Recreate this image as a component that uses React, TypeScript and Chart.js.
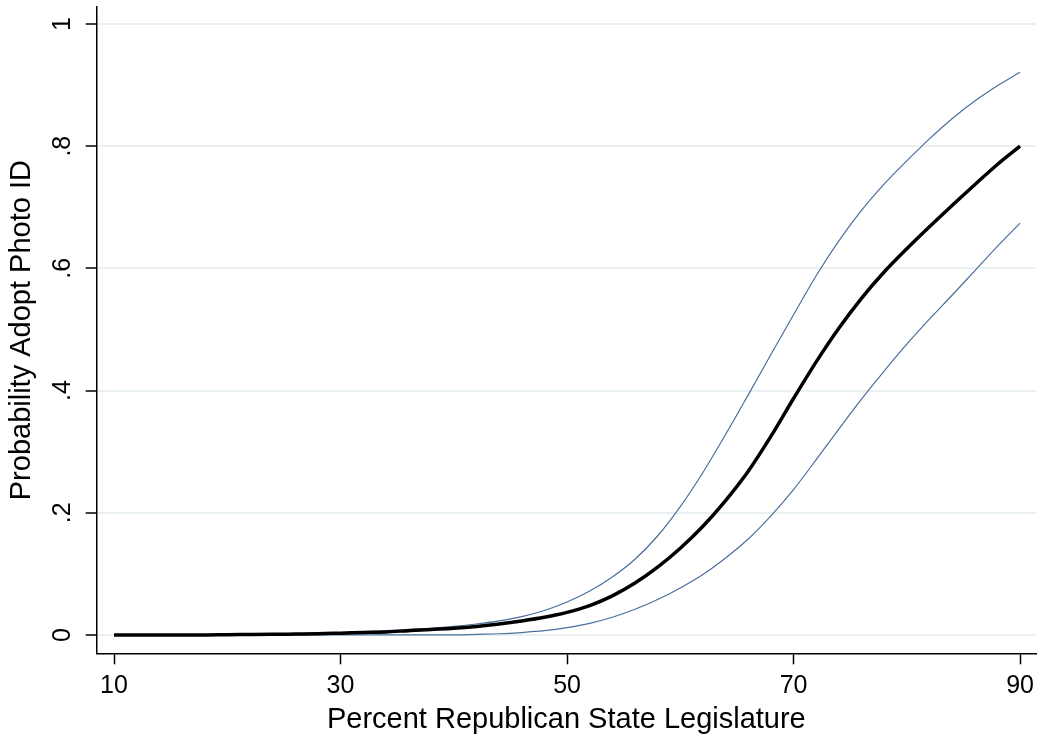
import React, { useEffect, useRef } from "react";
import { Chart, registerables } from "chart.js";

Chart.register(...registerables);

const xValues = [10, 12, 14, 16, 18, 20, 22, 24, 26, 28, 30, 32, 34, 36, 38, 40, 42, 44, 46, 48, 50, 52, 54, 56, 58, 60, 62, 64, 66, 68, 70, 72, 74, 76, 78, 80, 82, 84, 86, 88, 90];

const meanValues = [0, 0, 0, 0, 0, 0.0005, 0.0007, 0.001, 0.0015, 0.002, 0.003, 0.004, 0.005, 0.007, 0.009, 0.011, 0.014, 0.018, 0.023, 0.029, 0.037, 0.048, 0.064, 0.085, 0.111, 0.142, 0.178, 0.22, 0.268, 0.325, 0.387, 0.447, 0.502, 0.551, 0.594, 0.632, 0.668, 0.703, 0.737, 0.77, 0.8];

const upperValues = [0, 0, 0, 0, 0.0005, 0.001, 0.001, 0.0015, 0.002, 0.003, 0.004, 0.005, 0.007, 0.009, 0.011, 0.014, 0.018, 0.023, 0.03, 0.04, 0.054, 0.072, 0.095, 0.124, 0.162, 0.21, 0.266, 0.328, 0.393, 0.459, 0.524, 0.588, 0.645, 0.695, 0.738, 0.776, 0.812, 0.845, 0.874, 0.899, 0.921];

const lowerValues = [0, 0, 0, 0, 0, 0, 0, 0, 0, 0, 0, 0, 0, 0, 0, 0, 0.001, 0.002, 0.004, 0.007, 0.012, 0.019, 0.029, 0.042, 0.058, 0.077, 0.099, 0.126, 0.157, 0.195, 0.238, 0.287, 0.337, 0.386, 0.432, 0.476, 0.517, 0.556, 0.596, 0.636, 0.674];

const xTickValues = [10, 30, 50, 70, 90];
const xTickLabels = ["10", "30", "50", "70", "90"];
const yTickValues = [0, 0.2, 0.4, 0.6, 0.8, 1];
const yTickLabels = ["0", ".2", ".4", ".6", ".8", "1"];

const xTitle = "Percent Republican State Legislature";
const yTitle = "Probability Adopt Photo ID";

const FONT = "'Liberation Sans', Arial, sans-serif";

export default function App() {
  const canvasRef = useRef<HTMLCanvasElement | null>(null);

  useEffect(() => {
    const canvas = canvasRef.current;
    if (!canvas) return;

    const toPts = (arr: number[]) => xValues.map((x, i) => ({ x, y: arr[i] }));

    const tickLabelPlugin = {
      id: "customTickLabels",
      afterDraw(chart: any) {
        const ctx = chart.ctx;
        const ys = chart.scales.y;
        const xs = chart.scales.x;
        ctx.save();
        ctx.fillStyle = "#000";
        ctx.font = `25px ${FONT}`;
        ctx.textAlign = "center";
        ctx.textBaseline = "middle";
        yTickValues.forEach((v, i) => {
          const py = ys.getPixelForValue(v);
          ctx.save();
          ctx.translate(63, py);
          ctx.rotate(-Math.PI / 2);
          ctx.fillText(yTickLabels[i], 0, 0);
          ctx.restore();
        });
        xTickValues.forEach((v, i) => {
          const px = xs.getPixelForValue(v);
          ctx.fillText(xTickLabels[i], px, 686);
        });
        ctx.restore();
      },
    };

    const chart = new Chart(canvas, {
      type: "line",
      data: {
        datasets: [
          {
            label: "Predicted probability",
            data: toPts(meanValues),
            borderColor: "#000000",
            borderWidth: 3.5,
            pointRadius: 0,
            cubicInterpolationMode: "monotone",
            fill: false,
          },
          {
            label: "Upper bound",
            data: toPts(upperValues),
            borderColor: "#4a6f9c",
            borderWidth: 1.2,
            pointRadius: 0,
            cubicInterpolationMode: "monotone",
            fill: false,
          },
          {
            label: "Lower bound",
            data: toPts(lowerValues),
            borderColor: "#4a6f9c",
            borderWidth: 1.2,
            pointRadius: 0,
            cubicInterpolationMode: "monotone",
            fill: false,
          },
        ],
      },
      options: {
        responsive: false,
        animation: false,
        devicePixelRatio: 1,
        layout: { padding: { top: 7, right: 1, bottom: 0, left: 0 } },
        plugins: {
          legend: { display: false },
          tooltip: { enabled: false },
        },
        scales: {
          x: {
            type: "linear",
            min: 8.47,
            max: 91.41,
            afterBuildTicks: (scale: any) => {
              scale.ticks = xTickValues.map((v) => ({ value: v }));
            },
            ticks: { display: false },
            grid: {
              drawOnChartArea: false,
              tickLength: 11,
              tickColor: "#000",
              tickWidth: 1.5,
            },
            border: { color: "#000", width: 1.5 },
            title: {
              display: true,
              text: xTitle,
              color: "#000",
              font: { family: FONT, size: 29 },
              padding: { top: 37.8, bottom: 1.1 },
            },
          },
          y: {
            type: "linear",
            min: -0.03,
            max: 1.0278,
            afterBuildTicks: (scale: any) => {
              scale.ticks = yTickValues.map((v) => ({ value: v }));
            },
            ticks: { display: false },
            grid: {
              color: "#e8f0f2",
              lineWidth: 2,
              tickLength: 11,
              tickColor: "#000",
              tickWidth: 1.5,
            },
            border: { color: "#000", width: 1.5 },
            title: {
              display: true,
              text: yTitle,
              color: "#000",
              font: { family: FONT, size: 29 },
              padding: { top: 4.6, bottom: 46.3 },
            },
          },
        },
      },
      plugins: [tickLabelPlugin],
    });

    return () => chart.destroy();
  }, []);

  return (
    <div style={{ position: "fixed", left: 0, top: 0, width: 1037, height: 738, background: "#fff" }}>
      <canvas ref={canvasRef} width={1037} height={738} style={{ width: 1037, height: 738, display: "block" }} />
    </div>
  );
}
